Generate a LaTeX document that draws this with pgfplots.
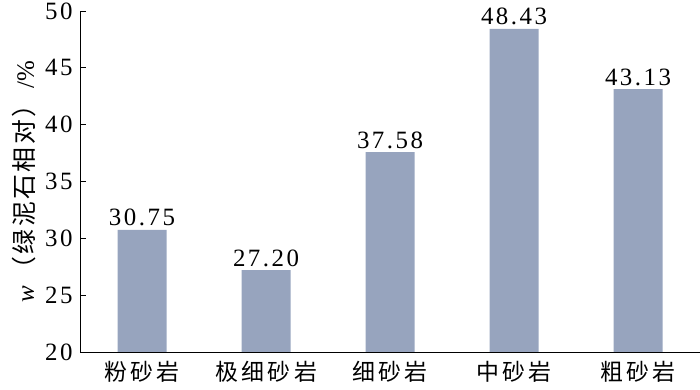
\documentclass[border=0pt]{standalone}
\usepackage{pgfplots}
\pgfplotsset{compat=1.18}
\usepackage{fontspec}
\setmainfont{Liberation Serif}
\newfontfamily\cjk{Noto Sans CJK SC}
\newfontfamily\cjksp[LetterSpace=15]{Noto Sans CJK SC}
\newfontfamily\cjkspy[LetterSpace=10]{Noto Sans CJK SC}
\newfontfamily\numsp[LetterSpace=10]{Liberation Serif}
\definecolor{barc}{HTML}{97A4BE}
\begin{document}
\begin{tikzpicture}
\path[use as bounding box] (0,0) rectangle (700bp,390bp);
\begin{axis}[
  at={(80bp,38bp)}, anchor=south west,
  scale only axis, width=620bp, height=341bp,
  xmin=-0.5, xmax=4.5, ymin=20, ymax=50,
  ytick={20,25,...,50},
  xtick=data,
  xticklabels={粉砂岩,极细砂岩,细砂岩,中砂岩,粗砂岩},
  x tick label style={font=\cjksp\fontsize{23}{26}\selectfont, yshift=-6bp},
  y tick label style={font=\numsp\fontsize{25}{28}\selectfont, xshift=-4bp},
  /pgf/number format/assume math mode=true,
  axis x line*=bottom, axis y line*=left,
  x axis line style={-}, y axis line style={-},
  major x tick style={draw=none},
  tick align=inside, major tick length=6bp,
  tick style={black, line width=0.8pt},
  axis line style={line width=0.8pt},
  ylabel={\textit{w}\,{\cjkspy（绿泥石相对）}\,/\%},
  ylabel style={font=\fontsize{25}{28}\selectfont, yshift=2bp},
  nodes near coords,
  every node near coord/.append style={font=\numsp\fontsize{25}{28}\selectfont, /pgf/number format/fixed, /pgf/number format/precision=2, /pgf/number format/fixed zerofill, yshift=0bp},
]
\addplot[ybar, bar width=49bp, fill=barc, draw=none] coordinates {(0,30.75) (1,27.20) (2,37.58) (3,48.43) (4,43.13)};
\end{axis}
\end{tikzpicture}
\end{document}
